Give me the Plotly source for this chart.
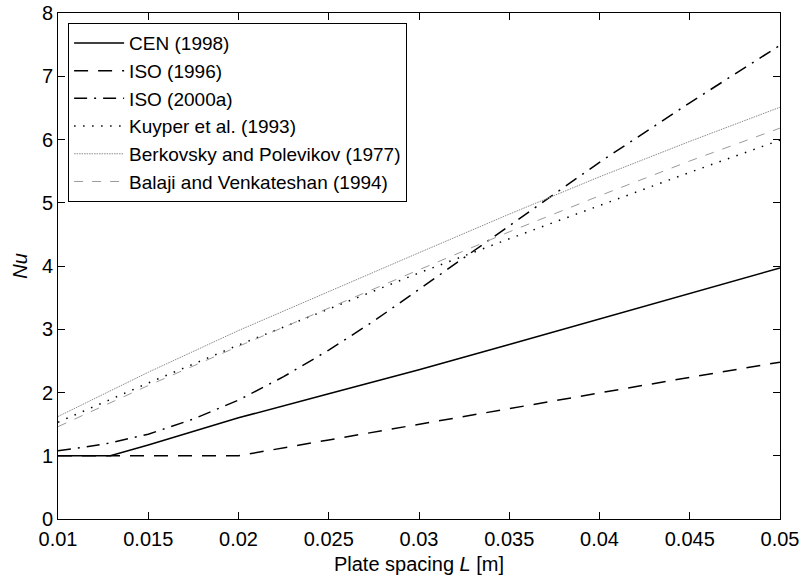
import plotly.graph_objects as go

# x positions (plate spacing L, m)
L_grid = [0.01, 0.015, 0.02, 0.025, 0.03, 0.035, 0.04, 0.045, 0.05]

# CEN (1998)
cen_L = [0.01, 0.0129, 0.015, 0.02, 0.025, 0.03, 0.035, 0.04, 0.045, 0.05]
cen_nu = [1.0, 1.0, 1.17, 1.60, 1.98, 2.36, 2.76, 3.16, 3.56, 3.97]

# ISO (1996)
iso96_L = [0.01, 0.02, 0.025, 0.03, 0.035, 0.04, 0.045, 0.05]
iso96_nu = [1.0, 1.0, 1.25, 1.50, 1.75, 1.99, 2.24, 2.48]

# ISO (2000a)
iso00_L = [0.01, 0.0125, 0.015, 0.0175, 0.02, 0.0225, 0.025, 0.0275, 0.03, 0.0325, 0.035, 0.0375, 0.04, 0.045, 0.05]
iso00_nu = [1.08, 1.18, 1.34, 1.58, 1.88, 2.25, 2.67, 3.13, 3.63, 4.13, 4.63, 5.14, 5.64, 6.58, 7.49]

# Kuyper et al. (1993)
kuyper_nu = [1.53, 2.15, 2.75, 3.32, 3.89, 4.43, 4.96, 5.48, 5.99]

# Berkovsky and Polevikov (1977)
berk_nu = [1.62, 2.32, 2.98, 3.60, 4.21, 4.82, 5.41, 5.97, 6.51]

# Balaji and Venkateshan (1994)
balaji_nu = [1.46, 2.11, 2.73, 3.34, 3.94, 4.54, 5.11, 5.66, 6.18]

x_ticks = [0.01, 0.015, 0.02, 0.025, 0.03, 0.035, 0.04, 0.045, 0.05]
x_tick_text = ["0.01", "0.015", "0.02", "0.025", "0.03", "0.035", "0.04", "0.045", "0.05"]
y_ticks = [0, 1, 2, 3, 4, 5, 6, 7, 8]

FONT = "Liberation Sans, Arial, Helvetica, sans-serif"

fig = go.Figure()
fig.add_trace(go.Scatter(x=cen_L, y=cen_nu, mode="lines", name="CEN (1998)",
                         line=dict(color="black", width=1.5)))
fig.add_trace(go.Scatter(x=iso96_L, y=iso96_nu, mode="lines", name="ISO (1996)",
                         line=dict(color="black", width=1.5, dash="14px,10px")))
fig.add_trace(go.Scatter(x=iso00_L, y=iso00_nu, mode="lines", name="ISO (2000a)",
                         line=dict(color="black", width=1.5, dash="13px,7px,2px,7px")))
fig.add_trace(go.Scatter(x=L_grid, y=kuyper_nu, mode="lines", name="Kuyper et al. (1993)",
                         line=dict(color="black", width=1.5, dash="1.5px,7.5px")))
fig.add_trace(go.Scatter(x=L_grid, y=berk_nu, mode="lines", name="Berkovsky and Polevikov (1977)",
                         line=dict(color="#8a8a8a", width=1, dash="1.5px,1px")))
fig.add_trace(go.Scatter(x=L_grid, y=balaji_nu, mode="lines", name="Balaji and Venkateshan (1994)",
                         line=dict(color="#9a9a9a", width=1, dash="9px,9px")))

axis_common = dict(
    showline=True, linecolor="black", linewidth=1, mirror="ticks",
    ticks="inside", ticklen=7, tickcolor="black", tickwidth=1,
    showgrid=False, zeroline=False, automargin=False,
    tickfont=dict(family=FONT, size=20, color="black"),
)

fig.update_layout(
    width=804, height=579,
    margin=dict(l=58, r=24, t=13, b=60),
    paper_bgcolor="white", plot_bgcolor="white",
    font=dict(family=FONT, size=20, color="black"),
    xaxis=dict(range=[0.01, 0.05], tickvals=x_ticks, ticktext=x_tick_text,
               ticklabelstandoff=2,
               title=dict(text="Plate spacing <i>L</i> [m]", font=dict(family=FONT, size=20), standoff=7),
               **axis_common),
    yaxis=dict(range=[0, 8], tickvals=y_ticks, **axis_common),
    annotations=[dict(text="<i>Nu</i>", xref="paper", yref="paper",
                      x=-0.053, y=0.5, xanchor="center", yanchor="middle",
                      textangle=-90, showarrow=False,
                      font=dict(family=FONT, size=20, color="black"))],
    legend=dict(x=0.014, y=0.98, xanchor="left", yanchor="top",
                bgcolor="white", bordercolor="black", borderwidth=1,
                font=dict(family=FONT, size=19, color="black"),
                itemwidth=50, tracegroupgap=0),
    showlegend=True,
)

fig.write_html("out.html")
